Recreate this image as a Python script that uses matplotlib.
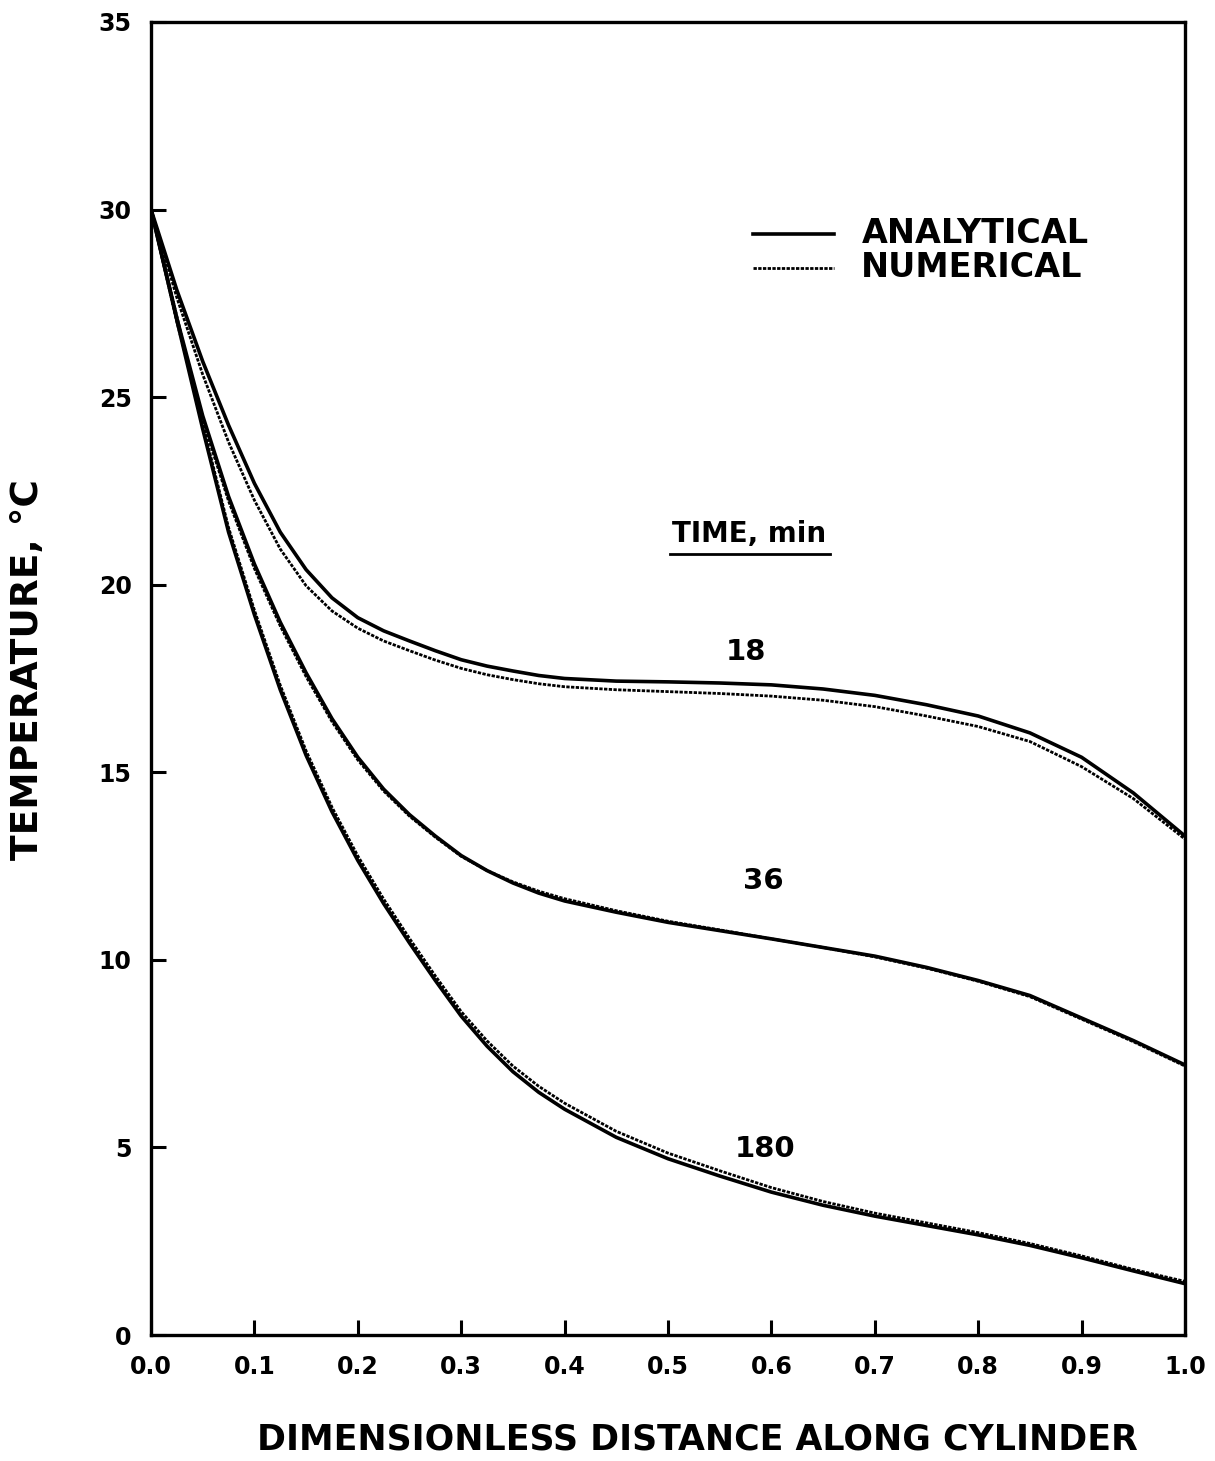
import numpy as np
import matplotlib.pyplot as plt
from matplotlib.lines import Line2D

# Dimensionless distance along cylinder
x = [0.0, 0.025, 0.05, 0.075, 0.1, 0.125, 0.15, 0.175, 0.2, 0.225, 0.25, 0.275,
     0.3, 0.325, 0.35, 0.375, 0.4, 0.45, 0.5, 0.55, 0.6, 0.65, 0.7, 0.75, 0.8,
     0.85, 0.9, 0.95, 1.0]

# Temperature (C)
t18_ana = [30, 27.85, 25.95, 24.25, 22.7, 21.4, 20.4, 19.65, 19.12, 18.77, 18.5, 18.24,
           18.0, 17.83, 17.7, 17.58, 17.5, 17.43, 17.41, 17.38, 17.33, 17.22, 17.05,
           16.8, 16.5, 16.05, 15.4, 14.45, 13.3]
t18_num = [30, 27.65, 25.6, 23.8, 22.25, 20.95, 19.97, 19.3, 18.84, 18.5, 18.24, 17.99,
           17.77, 17.6, 17.47, 17.36, 17.28, 17.2, 17.15, 17.1, 17.03, 16.92, 16.75,
           16.5, 16.22, 15.82, 15.15, 14.3, 13.22]
t36_ana = [30, 27.1, 24.5, 22.35, 20.55, 19.0, 17.65, 16.43, 15.4, 14.55, 13.87, 13.3,
           12.78, 12.38, 12.05, 11.78, 11.57, 11.27, 11.0, 10.78, 10.56, 10.33, 10.1,
           9.8, 9.45, 9.05, 8.45, 7.85, 7.2]
t36_num = [30, 27.0, 24.38, 22.23, 20.43, 18.9, 17.55, 16.35, 15.33, 14.5, 13.83, 13.27,
           12.76, 12.38, 12.08, 11.83, 11.63, 11.31, 11.03, 10.8, 10.56, 10.33, 10.08,
           9.78, 9.43, 9.02, 8.42, 7.82, 7.17]
t180_ana = [30, 27.05, 24.15, 21.4, 19.2, 17.2, 15.45, 13.95, 12.65, 11.5, 10.45, 9.45,
            8.5, 7.7, 7.02, 6.47, 6.02, 5.27, 4.7, 4.24, 3.81, 3.46, 3.17, 2.92, 2.67,
            2.39, 2.06, 1.71, 1.37]
t180_num = [30, 27.15, 24.27, 21.52, 19.32, 17.32, 15.57, 14.07, 12.77, 11.62, 10.57, 9.57,
            8.62, 7.84, 7.17, 6.63, 6.18, 5.43, 4.85, 4.38, 3.93, 3.56, 3.25, 2.99, 2.73,
            2.44, 2.11, 1.75, 1.43]

times = ["18", "36", "180"]
label_pos = [(0.575, 18.2), (0.592, 12.1), (0.594, 4.95)]

xticks = np.arange(0, 1.01, 0.1)
yticks = np.arange(0, 36, 5)

plt.rcParams['font.family'] = 'DejaVu Sans'
plt.rcParams['font.weight'] = 'bold'

fig = plt.figure(figsize=(12.15, 14.61), dpi=100)
ax = fig.add_axes([0.1243, 0.0862, 0.851, 0.8988])

ana_lw = 2.6
num_style = dict(color='black', lw=2.0, ls=(0, (1.2, 0.5)))

for ta, tn in [(t18_ana, t18_num), (t36_ana, t36_num), (t180_ana, t180_num)]:
    ax.plot(x, ta, color='black', lw=ana_lw, solid_capstyle='butt',
            solid_joinstyle='round')
    ax.plot(x, tn, **num_style)

for lab, (lx, ly) in zip(times, label_pos):
    ax.text(lx, ly, lab, fontsize=21, fontweight='bold', ha='center', va='center')

ttl = ax.text(0.578, 21.35, "TIME, min", fontsize=20, fontweight='bold',
              ha='center', va='center')

# legend drawn by hand like the original
leg_x0, leg_x1 = 0.582, 0.661
ax.plot([leg_x0, leg_x1], [29.35, 29.35], color='black', lw=ana_lw)
ax.plot([leg_x0, leg_x1], [28.45, 28.45], **num_style)
ax.text(0.687, 29.35, "ANALYTICAL", fontsize=24, fontweight='bold', va='center')
ax.text(0.687, 28.45, "NUMERICAL", fontsize=24, fontweight='bold', va='center')

ax.set_xlim(0, 1)
ax.set_ylim(0, 35)
ax.set_xticks(xticks)
ax.set_xticklabels([f"{v:.1f}" for v in xticks])
ax.set_yticks(yticks)
ax.tick_params(direction='in', length=11, width=2.2, labelsize=17, pad=14,
               top=False, right=False)
for lbl in ax.get_xticklabels() + ax.get_yticklabels():
    lbl.set_fontweight('bold')
for sp in ax.spines.values():
    sp.set_linewidth(2.4)

fig.text(0.023, 1 - 670 / 1461, "TEMPERATURE, \u00b0C", rotation=90, fontsize=27,
         fontweight='bold', ha='center', va='center')
fig.text(0.574, 1 - 1440 / 1461, "DIMENSIONLESS DISTANCE ALONG CYLINDER", fontsize=25,
         fontweight='bold', ha='center', va='center')

# underline under "TIME, min"
fig.canvas.draw()
bb = ttl.get_window_extent()
uy = bb.y0 - 6
fig.add_artist(Line2D([bb.x0 - 2, bb.x1 + 4], [uy, uy], color='black', lw=2.0,
                      transform=None))

fig.savefig("out.png", dpi=100)
